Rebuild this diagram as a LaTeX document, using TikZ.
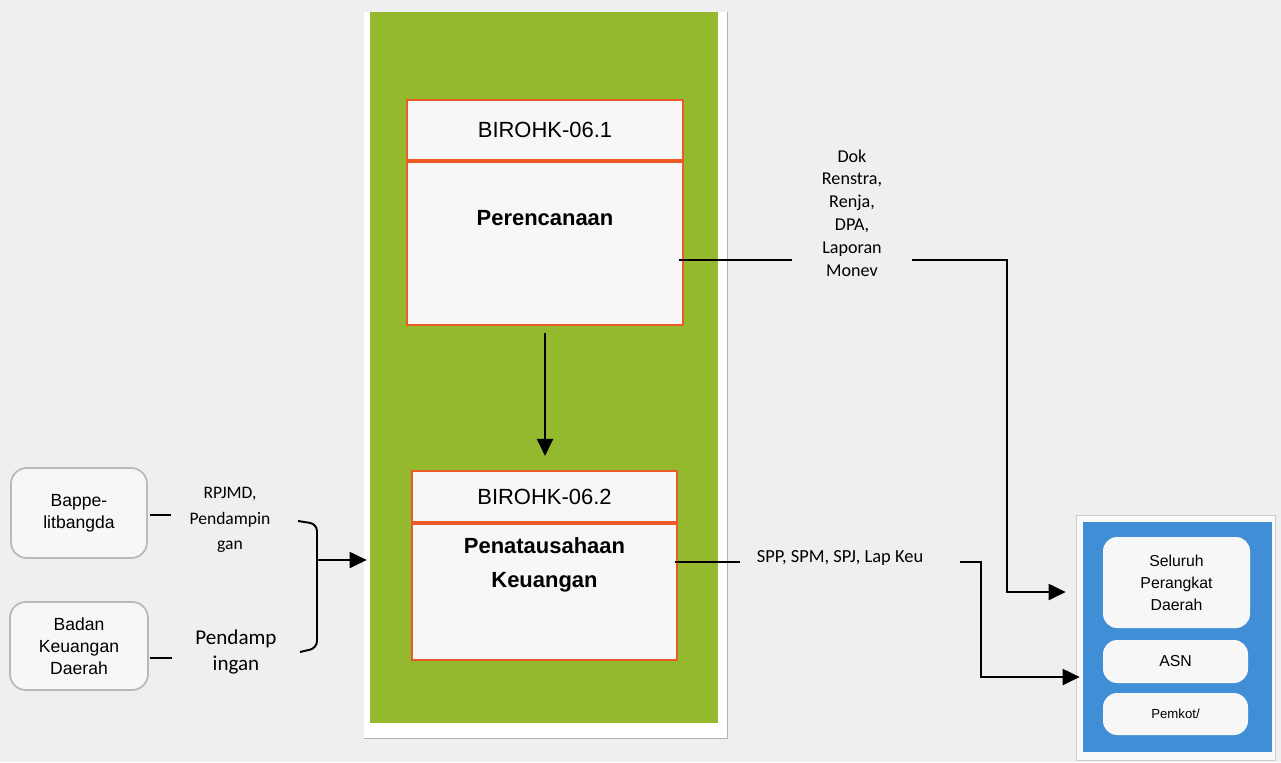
\documentclass[tikz,border=0pt]{standalone}
\usepackage{fontspec}
\setmainfont{Liberation Sans}
\newfontfamily\calibri{Carlito}
\usepackage{xcolor}
\usetikzlibrary{arrows.meta,positioning}

\definecolor{scanbg}{RGB}{239,239,239}
\definecolor{paper}{RGB}{247,247,247}
\definecolor{panelgreen}{RGB}{148,184,46}
\definecolor{unitorange}{RGB}{236,90,38}
\definecolor{panelblue}{RGB}{64,143,214}

\tikzset{
  unitbox/.style={draw=unitorange, line width=1.2pt, fill=paper, inner sep=0pt},
  srcbox/.style={draw=gray!55, line width=1pt, rounded corners=9pt, fill=paper,
    align=center, font=\fontsize{10}{12.5}\selectfont},
  tgtbox/.style={fill=paper, rounded corners=8pt, align=center, inner sep=0pt},
  doclbl/.style={align=center, inner sep=0pt, font=\calibri\fontsize{10.3}{13}\selectfont},
  flow/.style={line width=1.1pt, -{Triangle[length=0.34cm,width=0.32cm]}},
  link/.style={line width=1.1pt}
}

\begin{document}
\begin{tikzpicture}[x=0.02cm, y=-0.02cm]
  \fill[scanbg] (0,0) rectangle (1281,762);
  \useasboundingbox (0,0) rectangle (1281,762);

  % --- central panel ---
  \fill[white] (364,12) rectangle (727,738);
  \draw[gray!60] (727,12) -- (727,738) -- (364,738);
  \node[fill=panelgreen, minimum width=6.96cm, minimum height=14.22cm, inner sep=0pt] (panel) at (544,367.5) {};

  % --- BIROHK-06.1 ---
  \node[unitbox, minimum width=5.52cm, minimum height=1.2cm,
        font=\fontsize{12.5}{15}\selectfont] (h1) at (545,130) {BIROHK-06.1};
  \node[unitbox, minimum width=5.52cm, minimum height=3.26cm, below=0pt of h1] (b1) {};
  \node[font=\bfseries\fontsize{12.5}{15}\selectfont] (t1) at (545,218) {Perencanaan};

  % --- BIROHK-06.2 ---
  \node[unitbox, minimum width=5.3cm, minimum height=1.02cm,
        font=\fontsize{12.5}{15}\selectfont] (h2) at (544.5,496.5) {BIROHK-06.2};
  \node[unitbox, minimum width=5.3cm, minimum height=2.72cm, below=0pt of h2] (b2) {};
  \node[align=center, font=\bfseries\fontsize{12.5}{19}\selectfont] (t2) at (544.5,565)
    {Penatausahaan\\Keuangan};

  \draw[flow, shorten <=0.14cm, shorten >=0.28cm] (b1.south -| 545,0) -- (h2.north -| 545,0);

  % --- sources on the left ---
  \node[srcbox, minimum width=2.72cm, minimum height=1.8cm] (bap) at (79,513) {Bappe-\\litbangda};
  \node[srcbox, minimum width=2.76cm, minimum height=1.76cm] (bkd) at (79,646) {Badan\\Keuangan\\Daerah};
  \node[doclbl, font=\calibri\fontsize{10}{14.5}\selectfont] (l1) at (230,520) {RPJMD,\\Pendampin\\gan};
  \node[doclbl, font=\calibri\fontsize{12}{15.3}\selectfont] (l2) at (236,652) {Pendamp\\ingan};
  \coordinate (d1) at (150,515);
  \coordinate (d2) at (150,658);
  \draw[link] (d1) -- ++(21,0);
  \draw[link] (d2) -- ++(22,0);
  % bracket
  \draw[link, rounded corners=4pt] (298,521) -- (317,524) -- (317,648) -- (300,652);
  \coordinate (brk) at (317,560);
  \draw[flow, shorten >=0.06cm] (brk) -- (panel.west |- brk);

  % --- target group on the right ---
  \draw[gray!40, fill=white!60!scanbg] (1076,515) rectangle (1275,760);
  \node[fill=panelblue, minimum width=3.78cm, minimum height=4.6cm, inner sep=0pt] (grp) at (1177.5,637) {};
  \node[tgtbox, minimum width=2.94cm, minimum height=1.82cm, font=\fontsize{9}{12.5}\selectfont]
    (sel) at (1176.5,582.5) {Seluruh\\Perangkat\\Daerah};
  \node[tgtbox, minimum width=2.9cm, minimum height=0.86cm, font=\fontsize{9}{11}\selectfont]
    (asn) at (1175.5,661.5) {ASN};
  \node[tgtbox, minimum width=2.9cm, minimum height=0.84cm, font=\fontsize{7.5}{9}\selectfont]
    (pkt) at (1175.5,714) {Pemkot/};

  % --- outgoing documents ---
  \node[doclbl] (doc1) at (852,213) {Dok\\Renstra,\\Renja,\\DPA,\\Laporan\\Monev};
  \coordinate (o1) at (679,260);
  \coordinate (g1a) at (792,260);
  \coordinate (g1b) at (912,260);
  \coordinate (c1) at (1007,260);
  \coordinate (e1) at (1007,592);
  \draw[link] (o1) -- (g1a);
  \draw[flow, shorten >=0.34cm] (g1b) -- (c1) -- (e1) -- (grp.west |- e1);

  \node[doclbl, font=\calibri\fontsize{10.5}{13}\selectfont] (doc2) at (840,558) {SPP, SPM, SPJ, Lap Keu};
  \coordinate (o2) at (675,562);
  \coordinate (g2a) at (740,562);
  \coordinate (g2b) at (960,562);
  \coordinate (c2) at (981,562);
  \coordinate (e2) at (981,677);
  \draw[link] (o2) -- (g2a);
  \draw[flow, shorten >=0.06cm] (g2b) -- (c2) -- (e2) -- (grp.west |- e2);
\end{tikzpicture}
\end{document}
